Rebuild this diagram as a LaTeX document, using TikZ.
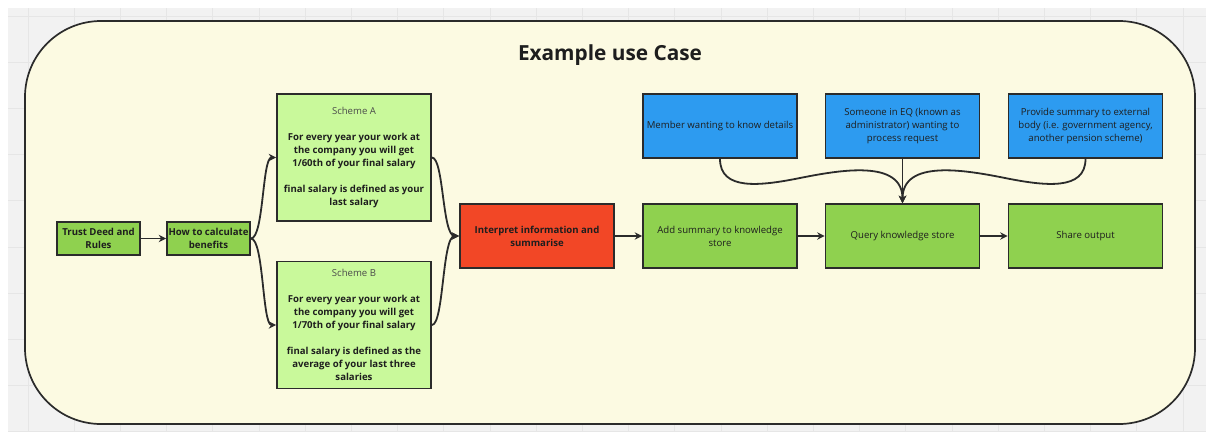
\documentclass[tikz,border=0pt]{standalone}
\usepackage{fontspec}
\setmainfont{Open Sans}
\usetikzlibrary{arrows.meta}
\definecolor{gridbg}{HTML}{F2F2F2}
\definecolor{gridln}{HTML}{E6E6E6}
\definecolor{cont}{HTML}{FCFAE2}
\definecolor{edge}{HTML}{2B2B2B}
\definecolor{txt}{HTML}{1E1E1E}
\definecolor{dgreen}{HTML}{8FD14F}
\definecolor{lgreen}{HTML}{C9F99B}
\definecolor{mblue}{HTML}{2D9BF0}
\definecolor{mred}{HTML}{F24726}
\definecolor{sgray}{HTML}{4A4A4A}
\begin{document}
\begin{tikzpicture}[x=1pt,y=-1pt,
  box/.style={draw=edge, line width=1.7pt, inner sep=0pt, align=center, text=txt,
    font=\fontsize{9.6}{13}\selectfont},
  small/.style={box, minimum width=83pt, minimum height=33pt, fill=dgreen, font=\fontsize{9.6}{13}\selectfont\bfseries},
  scheme/.style={box, minimum width=154pt, minimum height=127pt, fill=lgreen},
  wide/.style={box, minimum width=154pt, minimum height=64pt},
  conn/.style={draw=edge, line width=1.8pt, -{Stealth[length=7.5pt,width=7.5pt]}},
  gl/.style={draw=gridln, line width=0.8pt}]
\useasboundingbox (0,0) rectangle (1206,432);
\fill[white] (0,0) rectangle (1206,432);
\fill[gridbg] (8,8) rectangle (1206,432);
\foreach \i in {0,...,25} \draw[gl] ({28+46.2*\i},8) -- ({28+46.2*\i},432);
\foreach \j in {0,...,9} \draw[gl] (8,{16+46.2*\j}) -- (1206,{16+46.2*\j});
\draw[draw=edge, fill=cont, line width=1.7pt, rounded corners=76pt] (25,21) rectangle (1195,424);

\node[text=txt, font=\fontsize{20.8}{24}\selectfont\bfseries] (title) at (610,55) {Example use Case};

\node[small] (trust) at (98.5,238.5) {Trust Deed and\\Rules};
\node[small] (how) at (208.5,238.5) {How to calculate\\benefits};
\node[scheme] (sa) at (354,157.5) {{\color{sgray}Scheme A}\\[13pt]\bfseries For every year your work at\\\bfseries the company you will get\\\bfseries 1/60th of your final salary\\[13pt]\bfseries final salary is defined as your\\\bfseries last salary};
\node[scheme] (sb) at (354,325) {{\color{sgray}Scheme B}\\[13pt]\bfseries For every year your work at\\\bfseries the company you will get\\\bfseries 1/70th of your final salary\\[13pt]\bfseries final salary is defined as the\\\bfseries average of your last three\\\bfseries salaries};
\node[wide, fill=mred, font=\fontsize{9.6}{13}\selectfont\bfseries] (interp) at (537,236) {Interpret information and\\summarise};
\node[wide, fill=mblue] (mem) at (720,126) {Member wanting to know details};
\node[wide, fill=mblue] (some) at (902.5,126) {Someone in EQ (known as\\administrator) wanting to\\process request};
\node[wide, fill=mblue] (prov) at (1085.5,126) {Provide summary to external\\body (i.e. government agency,\\another pension scheme)};
\node[wide, fill=dgreen] (add) at (720,236) {Add summary to knowledge\\store};
\node[wide, fill=dgreen] (query) at (902.5,236) {Query knowledge store};
\node[wide, fill=dgreen] (share) at (1085.5,236) {Share output};

\coordinate (c1) at (800,178);
\coordinate (c2) at (1005,178);

\draw[conn] (trust) -- (how);
\draw[conn] (how.east) .. controls +(13,0) and +(-14,0) .. (sa.west);
\draw[conn] (how.east) .. controls +(13,0) and +(-14,0) .. (sb.west);
\draw[conn] (sa.east) .. controls +(12,0) and +(-17,0) .. (interp.west);
\draw[conn] (sb.east) .. controls +(12,0) and +(-17,0) .. (interp.west);
\draw[conn] (interp) -- (add);
\draw[conn] (add) -- (query);
\draw[conn] (query) -- (share);
\draw[conn] (some.south) -- (query.north);
\draw[conn] (mem.south) .. controls +(0,32) and +(-40,8) .. (c1) .. controls +(40,-8) and +(0,-44) .. (query.north);
\draw[conn] (prov.south) .. controls +(0,32) and +(40,8) .. (c2) .. controls +(-40,-8) and +(0,-44) .. (query.north);
\end{tikzpicture}
\end{document}
